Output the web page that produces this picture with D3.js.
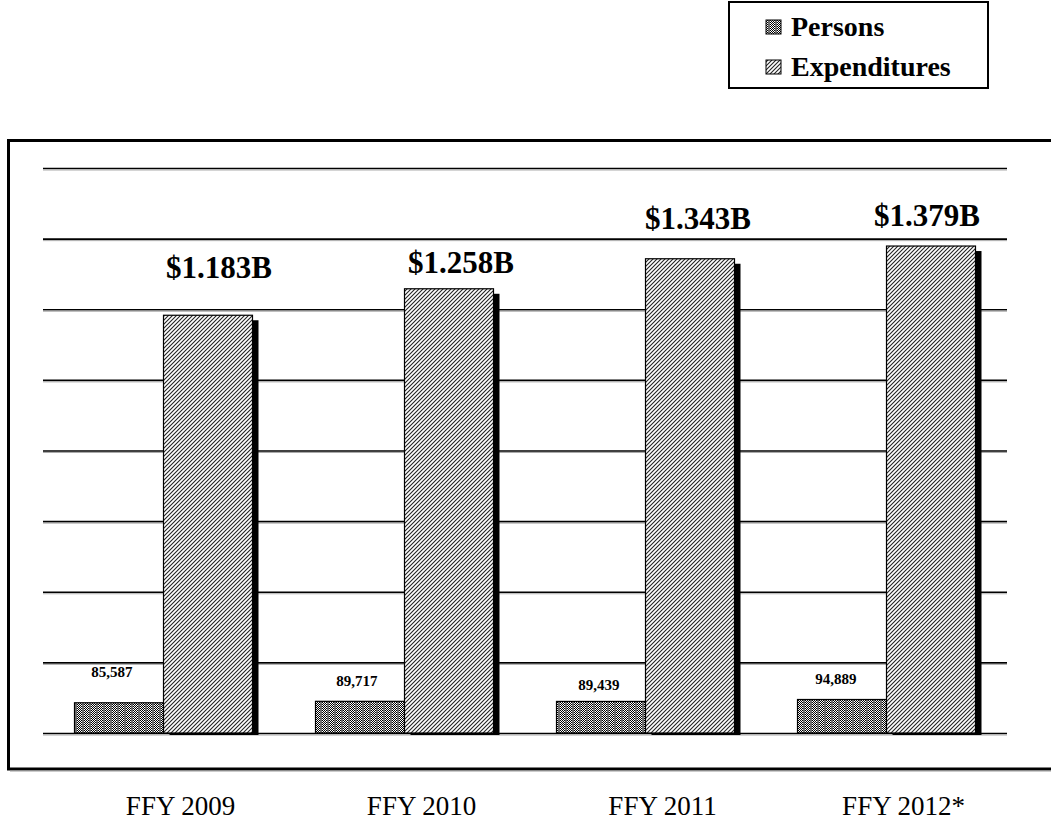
<!DOCTYPE html>
<html><head><meta charset="utf-8">
<script src="https://cdn.jsdelivr.net/npm/d3@7"></script>
<style>body{margin:0;background:#fff}svg{display:block}</style>
</head><body>
<svg id="c" width="1051" height="830"></svg>
<script>
const categories = ["FFY 2009", "FFY 2010", "FFY 2011", "FFY 2012*"];
const persons = [85587, 89717, 89439, 94889];
const personsLabels = ["85,587", "89,717", "89,439", "94,889"];
const expenditures = [1.183, 1.258, 1.343, 1.379];
const expLabels = ["$1.183B", "$1.258B", "$1.343B", "$1.379B"];
const seriesNames = ["Persons", "Expenditures"];
const expTicks = [0, 0.2, 0.4, 0.6, 0.8, 1.0, 1.2, 1.4, 1.6];
// manual label placement offsets (px), as placed in the original
const personsLift = [26, 15, 11, 15];
const personsDx = [-7, -3, -2, -6];
const expLift = [37, 16, 30, 20];
const expDx = [11, 12, 8, -4];

const svg = d3.select("#c");
const defs = svg.append("defs");
const pp = defs.append("pattern").attr("id","pPersons").attr("patternUnits","userSpaceOnUse").attr("width",7).attr("height",2);
pp.append("rect").attr("width",7).attr("height",2).attr("fill","#fff");
for (let i=0;i<5;i++){ for(let j=0;j<2;j++){ if((i+j)%2===0) pp.append("rect").attr("x",i).attr("y",j).attr("width",1).attr("height",1).attr("fill","#000"); } }
pp.append("rect").attr("x",5).attr("width",2).attr("height",2).attr("fill","#6e6e6e");
const pe = defs.append("pattern").attr("id","pExp").attr("patternUnits","userSpaceOnUse").attr("width",4).attr("height",4);
pe.append("rect").attr("width",4).attr("height",4).attr("fill","#fff");
pe.append("path").attr("d","M-1,1 L1,-1 M0,4 L4,0 M3,5 L5,3").attr("stroke","#222").attr("stroke-width",1.1);

const x = d3.scaleBand().domain(categories).range([43,1007]).paddingInner(0.2614).paddingOuter(0.1307);
const xs = d3.scaleBand().domain(seriesNames).range([0, x.bandwidth()]);
const y = d3.scaleLinear().domain([0,1.6]).range([733,168]);
const yP = d3.scaleLinear().domain([0,1600000]).range([733,168]);

svg.append("path").attr("d","M1060,140.5 L8.5,140.5 L8.5,769 L1060,769").attr("fill","none").attr("stroke","#000").attr("stroke-width",3);
svg.append("line").attr("x1",10).attr("x2",1060).attr("y1",771).attr("y2",771).attr("stroke","#999").attr("stroke-width",1);

const yAxis = d3.axisLeft(y).tickValues(expTicks).tickSize(-(1007-43)).tickFormat("");
const ga = svg.append("g").attr("transform","translate(43,0)").call(yAxis);
ga.select(".domain").remove();
ga.selectAll(".tick line").attr("stroke","#000").attr("stroke-width",1.6);
ga.selectAll(".tick").append("line").attr("x2",1007-43).attr("y1",1.5).attr("y2",1.5).attr("stroke","#aaa").attr("stroke-width",1);

const g = svg.append("g");
categories.forEach((c,i)=>{
  const x0 = x(c);
  const px = x0 + xs("Persons"), pw = xs.bandwidth();
  g.append("rect").attr("x",px).attr("y",yP(persons[i])).attr("width",pw).attr("height",yP(0)-yP(persons[i]))
    .attr("fill","url(#pPersons)").attr("stroke","#000").attr("stroke-width",1.2);
  const ex = x0 + xs("Expenditures"), ew = xs.bandwidth();
  g.append("rect").attr("x",ex+6).attr("y",y(expenditures[i])+5).attr("width",ew).attr("height",y(0)-y(expenditures[i])-3).attr("fill","#000");
  g.append("rect").attr("x",ex).attr("y",y(expenditures[i])).attr("width",ew).attr("height",y(0)-y(expenditures[i]))
    .attr("fill","url(#pExp)").attr("stroke","#000").attr("stroke-width",1.2);
  g.append("text").attr("x",px+pw/2+personsDx[i]).attr("y",yP(persons[i])-personsLift[i]).attr("text-anchor","middle")
    .attr("font-family","Liberation Serif").attr("font-weight","bold").attr("font-size",15).text(personsLabels[i]);
  g.append("text").attr("x",ex+ew/2+expDx[i]).attr("y",y(expenditures[i])-expLift[i]).attr("text-anchor","middle")
    .attr("font-family","Liberation Serif").attr("font-weight","bold").attr("font-size",31).text(expLabels[i]);
  svg.append("text").attr("x",x0+x.bandwidth()/2+17).attr("y",815).attr("text-anchor","middle")
    .attr("font-family","Liberation Serif").attr("font-size",27).text(c);
});

const lg = svg.append("g");
lg.append("rect").attr("x",729).attr("y",2).attr("width",259).attr("height",86).attr("fill","#fff").attr("stroke","#000").attr("stroke-width",2);
const fills = ["url(#pPersons)","url(#pExp)"];
seriesNames.forEach((s,i)=>{
  const yy = 36 + i*40;
  lg.append("rect").attr("x",766).attr("y",yy-16).attr("width",15).attr("height",14).attr("fill",fills[i]).attr("stroke","#000").attr("stroke-width",1);
  lg.append("text").attr("x",791).attr("y",yy).attr("font-family","Liberation Serif").attr("font-weight","bold").attr("font-size",28).text(s);
});
</script>
</body></html>
